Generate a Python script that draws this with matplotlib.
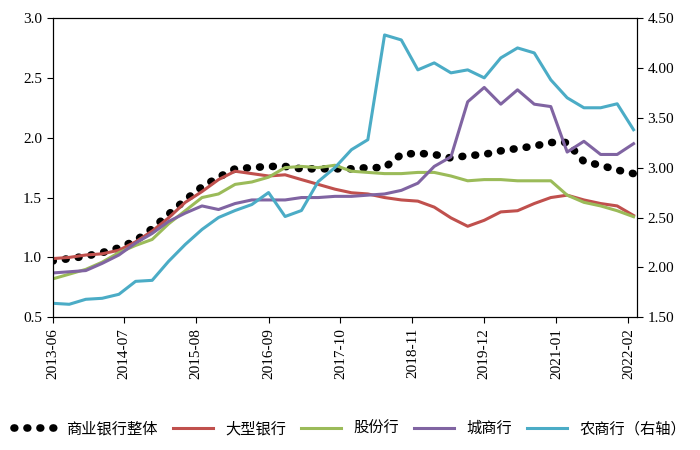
import numpy as np
import pandas as pd
import matplotlib.pyplot as plt

plt.rcParams['font.family'] = ['Liberation Serif', 'Noto Sans CJK SC']

dates = pd.date_range('2013-06-01', periods=36, freq='3MS')
ticks = ['2013-06', '2014-07', '2015-08', '2016-09', '2017-10',
         '2018-11', '2019-12', '2021-01', '2022-02']

total = [0.97, 0.99, 1.01, 1.04, 1.08, 1.14, 1.24, 1.36, 1.48, 1.59, 1.67, 1.74,
         1.75, 1.76, 1.76, 1.74, 1.74, 1.74, 1.74, 1.75, 1.75, 1.86, 1.87, 1.86,
         1.83, 1.85, 1.86, 1.89, 1.91, 1.93, 1.96, 1.96, 1.80, 1.77, 1.73, 1.70]
big = [0.99, 1.00, 1.02, 1.03, 1.06, 1.13, 1.22, 1.33, 1.46, 1.55, 1.65, 1.72,
       1.70, 1.68, 1.69, 1.65, 1.61, 1.57, 1.54, 1.53, 1.50, 1.48, 1.47, 1.42,
       1.33, 1.26, 1.31, 1.38, 1.39, 1.45, 1.50, 1.52, 1.48, 1.45, 1.43, 1.35]
joint = [0.82, 0.86, 0.90, 0.96, 1.04, 1.10, 1.15, 1.28, 1.39, 1.50, 1.53, 1.61,
         1.63, 1.67, 1.75, 1.76, 1.75, 1.77, 1.72, 1.71, 1.70, 1.70, 1.71, 1.71,
         1.68, 1.64, 1.65, 1.65, 1.64, 1.64, 1.64, 1.52, 1.46, 1.43, 1.39, 1.34]
city = [0.87, 0.88, 0.89, 0.95, 1.02, 1.12, 1.20, 1.30, 1.37, 1.43, 1.40, 1.45,
        1.48, 1.48, 1.48, 1.50, 1.50, 1.51, 1.51, 1.52, 1.53, 1.56, 1.62, 1.76,
        1.84, 2.30, 2.42, 2.28, 2.40, 2.28, 2.26, 1.88, 1.97, 1.86, 1.86, 1.95]
rural = [1.64, 1.63, 1.68, 1.69, 1.73, 1.86, 1.87, 2.06, 2.23, 2.38, 2.50, 2.57,
         2.63, 2.75, 2.51, 2.57, 2.86, 3.00, 3.18, 3.28, 4.33, 4.28, 3.98, 4.05,
         3.95, 3.98, 3.90, 4.10, 4.20, 4.15, 3.88, 3.70, 3.60, 3.60, 3.64, 3.38]

fig, ax = plt.subplots(figsize=[7, 4.5], dpi=100)
fig.subplots_adjust(left=0.075, right=0.91, top=0.96, bottom=0.295)

ax.plot(dates, total, color='black', linestyle=(0, (0.1, 1.6)), lw=5.5,
        dash_capstyle='round', label='商业银行整体')
ax.plot(dates, big, color='#c0504d', lw=2.2, label='大型银行')
ax.plot(dates, joint, color='#9bbb59', lw=2.2, label='股份行')
ax.plot(dates, city, color='#8064a2', lw=2.2, label='城商行')
ax2 = ax.twinx()
ax2.plot(dates, rural, color='#4bacc6', lw=2.2, label='农商行（右轴）')

ax.set_ylim(0.5, 3.0)
ax.set_yticks(np.arange(0.5, 3.01, 0.5))
ax.set_yticklabels([f'{v:.1f}' for v in np.arange(0.5, 3.01, 0.5)])
ax2.set_ylim(1.5, 4.5)
ax2.set_yticks(np.arange(1.5, 4.51, 0.5))
ax2.set_yticklabels([f'{v:.2f}' for v in np.arange(1.5, 4.51, 0.5)])
ax.set_xlim(pd.Timestamp('2013-06-01'), pd.Timestamp('2022-03-20'))
ax.set_xticks([pd.Timestamp(t + '-01') for t in ticks])
ax.set_xticklabels(ticks, rotation=90)
for a in (ax, ax2):
    a.tick_params(labelsize=11, direction='out', length=4)

h1, l1 = ax.get_legend_handles_labels()
h2, l2 = ax2.get_legend_handles_labels()
fig.legend(h1 + h2, l1 + l2, loc='lower center', ncol=5, frameon=False,
           fontsize=11, handlelength=2.6, columnspacing=1.0,
           bbox_to_anchor=(0.5, 0.0))

fig.savefig('out.png', dpi=100)
plt.close(fig)
